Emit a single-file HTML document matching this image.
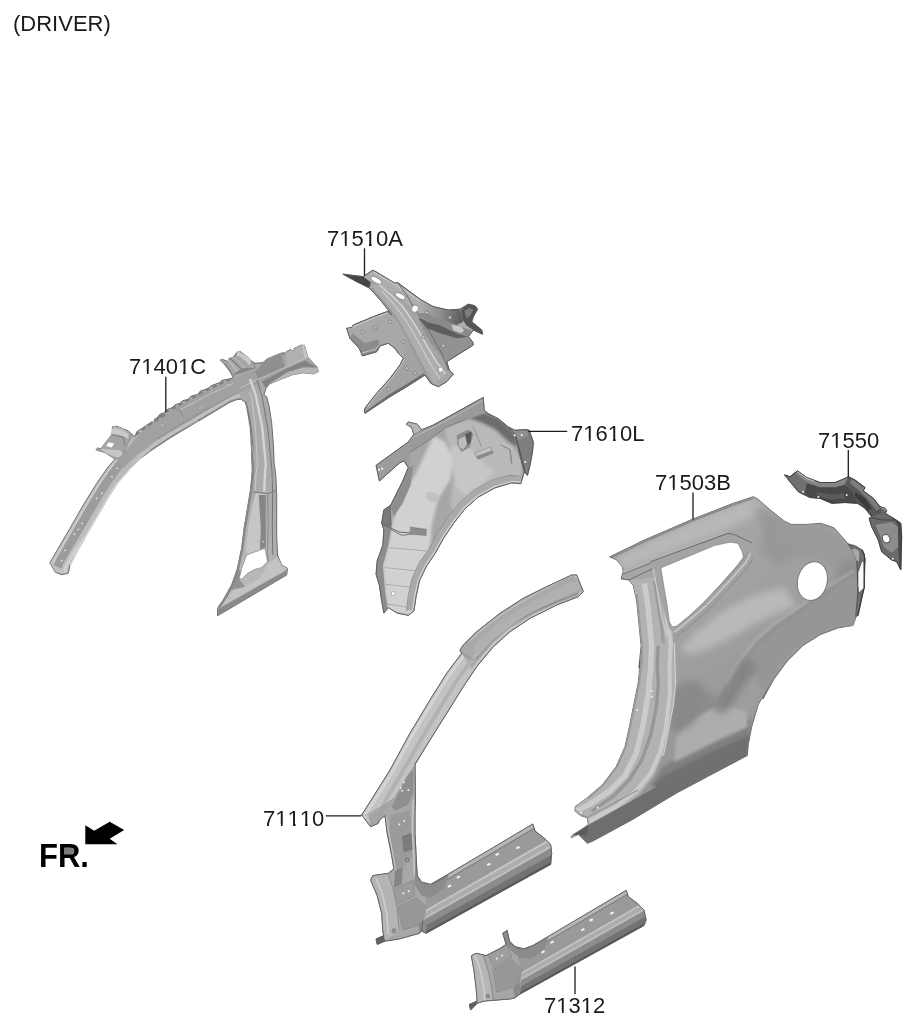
<!DOCTYPE html>
<html><head><meta charset="utf-8"><title>71110 diagram</title>
<style>
html,body{margin:0;padding:0;background:#fff;}
body{width:918px;height:1028px;overflow:hidden;position:relative;font-family:"Liberation Sans",sans-serif;color:#111;}
svg{position:absolute;left:0;top:0;display:block;}
.lb{position:absolute;white-space:nowrap;line-height:1;color:#1a1a1a;font-kerning:none;font-feature-settings:"kern" 0,"liga" 0;will-change:transform;transform:scaleY(1.03);transform-origin:0 85%;}
.o::after{content:"";display:inline-block;vertical-align:baseline;height:0.1em;margin-bottom:-0.016em;width:0.2em;margin-left:-0.512em;margin-right:0.312em;background:#fff;box-shadow:0.302em 0 0 0 #fff;}
</style></head><body>
<svg width="918" height="1028" viewBox="0 0 918 1028">
<defs>
<filter id="soft" x="-5%" y="-5%" width="110%" height="110%"><feGaussianBlur stdDeviation="0.55"/></filter>
<filter id="soft2" x="-10%" y="-10%" width="120%" height="120%"><feGaussianBlur stdDeviation="1.6"/></filter>
<filter id="soft3" x="-20%" y="-20%" width="140%" height="140%"><feGaussianBlur stdDeviation="3.5"/></filter>
<linearGradient id="gA" gradientUnits="userSpaceOnUse" x1="50" y1="600" x2="320" y2="350"><stop offset="0" stop-color="#c2c2c2"/><stop offset="0.45" stop-color="#b8b8b8"/><stop offset="0.6" stop-color="#ababab"/><stop offset="1" stop-color="#a8a8a8"/></linearGradient>
<clipPath id="cB"><path d="M343.3 274.2 L363.3 276.7 L372.5 270.3 L375.8 271.7 L395.0 283.3 L397.5 282.5 L420.0 299.2 L433.3 306.7 L448.3 310.0 L460.0 309.2 L468.3 304.2 L475.0 305.8 L477.5 309.2 L473.3 316.7 L471.7 321.7 L481.7 330.0 L482.5 334.2 L473.3 330.0 L468.3 336.7 L472.5 341.7 L473.3 345.0 L446.7 361.7 L449.2 370.0 L453.3 374.2 L446.7 381.7 L438.3 386.7 L430.8 383.3 L425.0 375.0 L406.7 386.7 L390.0 396.7 L365.0 413.3 L364.2 410.0 L366.7 405.8 L376.7 393.3 L390.0 378.3 L400.0 365.0 L403.3 358.3 L398.3 353.3 L395.0 348.3 L388.3 343.3 L380.0 345.8 L376.7 351.7 L362.5 355.8 L359.2 348.3 L350.0 338.3 L346.7 328.3 L351.7 327.5 L353.3 325.0 L373.3 316.7 L386.7 311.7 L388.3 311.7 L391.7 315.0 L388.3 310.0 L381.7 301.7 L370.0 288.3 L356.7 281.7Z"/></clipPath>
<linearGradient id="gBarm" gradientUnits="userSpaceOnUse" x1="420" y1="305" x2="462" y2="312"><stop offset="0" stop-color="#adadad"/><stop offset="0.5" stop-color="#8e8e8e"/><stop offset="1" stop-color="#5e5e5e"/></linearGradient>
<clipPath id="cC"><path d="M483.3 397.8 L484.2 410.3 L488.3 413.7 L498.3 418.7 L508.3 427.0 L515.0 430.3 L526.7 429.5 L529.2 430.3 L533.3 442.0 L532.5 452.0 L530.0 465.3 L527.5 475.3 L524.2 472.0 L520.8 483.7 L511.7 482.8 L495.0 487.8 L478.3 497.0 L465.0 508.7 L453.3 523.7 L443.3 538.7 L435.0 553.7 L426.6 565.8 L419.4 580.9 L416.1 596.4 L413.9 610.9 L408.3 615.3 L397.2 613.1 L388.3 607.6 L383.9 613.1 L381.7 600.9 L379.4 585.3 L376.1 574.2 L377.2 560.9 L382.8 545.3 L383.9 529.8 L381.7 523.1 L383.9 509.8 L390.6 505.3 L393.9 498.7 L402.8 480.9 L408.3 467.6 L403.9 460.9 L399.4 463.1 L379.4 480.9 L376.1 465.3 L408.3 442.0 L413.9 434.2 L411.7 427.6 L406.6 424.2 L408.3 422.0 L417.2 424.2 L421.7 429.8 L432.8 425.3 L455.0 413.1Z"/></clipPath>
<clipPath id="cD"><path d="M610.0 556.7 L644.4 540.0 L693.3 518.9 L733.3 503.3 L753.3 496.7 L757.8 498.9 L768.9 508.9 L784.4 521.1 L791.1 524.4 L807.3 524.4 L820.7 523.3 L834.0 527.8 L842.9 537.8 L849.6 545.6 L856.2 546.7 L862.9 552.2 L865.1 558.9 L862.9 578.9 L861.8 592.2 L858.4 605.6 L856.2 616.7 L852.9 625.6 L849.6 626.0 L838.4 627.8 L820.7 634.4 L802.9 645.6 L787.3 661.1 L774.0 678.9 L762.9 698.9 L769.0 686.7 L758.3 704.4 L751.7 726.7 L748.3 744.4 L747.2 755.6 L709.4 775.6 L676.1 793.3 L631.7 820.0 L592.8 841.1 L587.2 843.3 L578.3 834.4 L571.2 837.8 L571.7 835.6 L583.9 827.8 L588.3 824.4 L587.2 817.8 L580.6 815.6 L575.0 811.1 L575.0 806.7 L587.2 797.8 L602.8 784.4 L616.1 766.7 L625.0 746.7 L629.4 726.7 L633.9 704.4 L638.3 682.2 L640.6 660.0 L638.9 667.8 L641.1 645.6 L638.9 623.3 L636.7 601.1 L633.3 585.6 L628.9 580.0 L621.1 578.9 L623.3 571.1 L622.2 566.7 L616.7 560.0Z"/></clipPath>
<linearGradient id="gD" gradientUnits="userSpaceOnUse" x1="640" y1="520" x2="780" y2="760"><stop offset="0" stop-color="#a9a9a9"/><stop offset="0.5" stop-color="#9f9f9f"/><stop offset="1" stop-color="#929292"/></linearGradient>
<clipPath id="cE"><path d="M785.0 475.0 L790.0 476.7 L797.5 470.8 L806.7 477.5 L820.0 482.5 L835.0 482.5 L843.3 479.2 L848.3 476.7 L855.0 480.0 L865.0 487.5 L863.3 490.8 L873.3 498.3 L880.0 506.7 L885.0 508.3 L886.7 510.8 L885.0 513.3 L895.0 519.2 L900.8 523.3 L901.7 536.7 L900.8 570.0 L899.2 566.7 L896.7 561.7 L891.7 560.0 L881.7 551.7 L878.3 540.0 L871.7 526.7 L869.2 518.3 L871.7 516.7 L865.0 508.3 L857.5 503.3 L845.0 502.5 L831.7 503.3 L820.0 498.3 L810.0 497.5 L798.3 491.7 L790.0 481.7Z"/></clipPath>
<clipPath id="cF"><path d="M361.7 815.0 L373.3 796.7 L390.0 770.0 L410.0 733.3 L430.0 700.0 L446.7 673.3 L461.7 653.3 L460.0 650.0 L463.3 645.0 L476.7 631.7 L500.0 613.3 L523.3 598.3 L546.7 586.7 L571.7 575.0 L576.7 575.0 L583.3 591.7 L578.3 596.7 L556.7 605.0 L530.0 618.3 L510.0 631.7 L493.3 646.7 L476.7 666.7 L463.3 686.7 L446.7 713.3 L430.0 740.0 L415.0 764.4 L415.4 800.0 L415.0 811.1 L415.0 833.3 L416.1 855.6 L417.2 875.6 L421.7 882.2 L430.6 884.4 L443.9 876.7 L492.8 847.8 L532.8 824.0 L535.0 831.1 L543.9 837.8 L550.6 844.4 L551.7 853.3 L550.6 864.4 L426.1 933.3 L421.7 931.1 L419.4 933.3 L399.4 938.9 L385.0 941.1 L377.2 944.4 L376.1 938.9 L383.9 935.6 L382.8 931.1 L381.7 913.3 L377.2 895.6 L370.6 880.0 L372.8 875.6 L388.3 873.3 L393.9 868.9 L391.7 855.6 L387.2 833.3 L385.0 815.6 L379.4 820.0 L378.3 823.3 L370.6 826.7 L363.9 817.8 L361.7 814.4Z"/></clipPath>
<clipPath id="cG"><path d="M471.7 955.6 L476.1 953.3 L486.1 955.6 L499.4 948.9 L506.1 944.4 L502.8 933.3 L507.2 930.4 L509.4 941.1 L515.0 946.7 L523.9 948.9 L532.8 945.6 L626.1 890.4 L628.3 896.7 L637.2 903.3 L643.9 910.0 L646.1 920.0 L643.9 925.6 L519.4 994.4 L515.0 997.8 L510.6 998.9 L483.9 1001.1 L477.2 1003.3 L470.6 1010.0 L469.4 1004.4 L477.2 1001.1 L476.1 987.8 L473.9 970.0Z"/></clipPath>
</defs>
<g filter="url(#soft)">
<path d="M50.0 562.5 L58.3 548.3 L70.0 528.3 L83.3 505.0 L96.7 483.3 L108.3 466.7 L115.0 459.2 L111.7 455.8 L103.3 451.7 L96.7 450.0 L97.5 448.0 L103.3 449.2 L106.7 443.3 L110.8 436.7 L113.3 433.3 L112.5 426.7 L116.7 426.2 L128.3 430.8 L130.8 433.3 L135.0 436.7 L136.7 431.7 L148.3 424.2 L151.7 421.7 L155.0 422.5 L154.2 419.2 L160.0 417.5 L165.0 414.2 L156.7 418.3 L160.0 414.2 L165.0 412.5 L166.7 409.7 L172.5 407.5 L175.0 404.7 L180.0 403.3 L182.5 400.8 L188.3 399.2 L190.8 396.3 L198.3 394.2 L200.0 391.3 L208.3 388.3 L210.8 385.8 L220.0 382.5 L221.7 380.3 L228.3 379.2 L233.3 377.5 L230.0 371.7 L225.0 365.0 L220.8 360.0 L223.3 359.7 L230.0 362.5 L236.7 352.5 L240.8 351.7 L250.0 360.0 L255.0 363.3 L265.0 362.5 L266.7 360.0 L262.8 362.8 L267.2 358.9 L280.6 353.3 L282.8 355.0 L285.0 352.8 L290.6 349.4 L292.8 351.1 L297.2 346.7 L301.7 345.0 L304.4 345.6 L307.8 357.2 L317.2 367.2 L318.3 371.7 L313.9 373.9 L302.8 372.8 L291.7 375.0 L280.6 379.4 L269.4 383.9 L266.1 388.3 L263.9 395.0 L266.7 396.7 L269.2 406.7 L271.7 423.3 L273.3 443.3 L274.2 463.3 L275.8 475.0 L276.7 495.0 L276.7 515.0 L276.7 535.0 L277.5 555.0 L281.7 565.0 L287.5 568.3 L286.7 575.0 L217.5 615.8 L217.5 608.3 L223.3 600.0 L231.7 585.0 L237.5 568.3 L241.7 548.3 L244.2 528.3 L247.5 508.3 L250.8 488.3 L252.5 471.7 L251.7 455.0 L253.3 450.0 L251.7 433.3 L250.0 420.0 L247.5 408.3 L245.0 401.7 L240.8 399.2 L236.7 399.7 L230.0 402.2 L215.0 411.2 L200.0 420.2 L183.3 430.0 L170.0 438.0 L160.0 444.7 L150.0 451.3 L138.3 460.0 L128.3 470.0 L118.3 481.7 L106.7 500.0 L95.0 520.0 L83.3 540.0 L73.3 556.7 L70.0 565.0 L68.3 573.3 L61.7 574.7 L55.8 572.5Z" fill="url(#gA)" stroke="#606060" stroke-width="0.9" stroke-linejoin="round" stroke-linecap="round" />
<path d="M57.7 567.0 L60.3 560.3 L79.8 527.0 L99.3 493.7 L110.3 477.0 L120.7 462.8" fill="none" stroke="#9c9c9c" stroke-width="8.6" stroke-linejoin="round" stroke-linecap="butt" />
<path d="M52.3 563.3 L60.7 549.2 L72.3 529.2 L85.7 505.8 L99.0 484.2 L110.7 467.5 L117.0 460.0" fill="none" stroke="#cbcbcb" stroke-width="1.7" stroke-linejoin="round" stroke-linecap="butt" />
<path d="M70.0 565.0 L84.2 538.3 L104.2 503.3 L115.8 485.0 L131.7 466.7" fill="none" stroke="#d2d2d2" stroke-width="1.6" stroke-linejoin="round" stroke-linecap="butt" />
<path d="M64.7 572.5 L65.8 566.7 L71.7 556.7 L84.2 538.3" fill="none" stroke="#d0d0d0" stroke-width="3" stroke-linejoin="round" stroke-linecap="butt" />
<path d="M150.0 423.3 L165.0 414.2 L180.0 405.0 L198.3 395.8 L220.0 384.2 L233.3 379.2 L250.0 371.7 L265.0 365.0 L265.0 380.0 L243.3 390.8 L233.3 395.3 L216.7 404.2 L200.0 413.8 L183.3 423.7 L166.7 433.7 L150.0 444.2Z" fill="#a1a1a1" />
<path d="M116.7 458.3 L125.0 451.7 L135.0 439.2 L150.0 423.3 L151.7 444.2 L138.3 453.7 L128.3 463.3 L123.3 468.3Z" fill="#a1a1a1" />
<path d="M150.0 447.5 L170.0 434.7 L200.0 416.7 L230.0 398.7 L240.0 395.3" fill="none" stroke="#c0c0c0" stroke-width="3.0" stroke-linejoin="round" stroke-linecap="butt" />
<path d="M131.7 465.8 L145.0 452.5 L161.7 440.0 L178.3 429.7 L198.0 420.3" fill="none" stroke="#c0c0c0" stroke-width="2.6" stroke-linejoin="round" stroke-linecap="butt" />
<path d="M135.8 435.0 L148.3 425.3 L165.0 415.0 L160.0 415.3 L172.5 408.3 L188.3 400.0 L208.3 389.3 L228.3 380.0 L233.3 378.3" fill="none" stroke="#7e7e7e" stroke-width="2.0" stroke-linejoin="round" stroke-linecap="butt" stroke-dasharray="4.5 3.2"/>
<path d="M267.8 359.7 L280.6 354.1 L290.6 350.3 L301.7 345.9" fill="none" stroke="#808080" stroke-width="1.8" stroke-linejoin="round" stroke-linecap="butt" stroke-dasharray="4 3"/>
<path d="M156.7 439.2 L178.3 425.8 L205.0 410.3 L233.3 395.3" fill="none" stroke="#868686" stroke-width="0.8" stroke-linejoin="round" stroke-linecap="butt" />
<path d="M173.3 408.3 L180.0 410.0 L183.3 416.7" fill="none" stroke="#808080" stroke-width="0.8" stroke-linejoin="round" stroke-linecap="butt" />
<path d="M180.0 410.0 L205.0 396.7 L233.3 383.3" fill="none" stroke="#c4c4c4" stroke-width="1.0" stroke-linejoin="round" stroke-linecap="butt" />
<path d="M252.8 371.7 L262.8 362.8 L267.2 358.9 L280.6 353.3 L282.8 355.0 L285.0 352.8 L290.6 349.4 L292.8 351.1 L297.2 346.7 L301.7 345.0 L304.4 345.6 L307.8 357.2 L317.2 367.2 L318.3 371.7 L313.9 373.9 L302.8 372.8 L291.7 375.0 L280.6 379.4 L269.4 383.9 L266.1 388.3 L258.3 381.7Z" fill="#a3a3a3" />
<path d="M267.2 359.2 L280.6 353.7 L285.0 367.2 L258.3 378.9 L255.0 371.7Z" fill="#8f8f8f" />
<path d="M285.6 353.3 L290.6 349.8 L292.8 351.4 L297.2 347.0 L301.7 345.3 L304.1 345.9 L307.2 357.2 L302.8 360.0 L287.2 366.7Z" fill="#b0b0b0" />
<path d="M301.7 345.3 L304.3 345.8 L307.8 357.2 L305.0 358.9Z" fill="#c4c4c4" />
<path d="M261.7 381.7 L287.2 368.3 L305.0 360.6 L309.4 363.3 L317.2 367.4 L302.8 367.2 L287.2 372.2 L269.4 383.7 L266.1 388.1Z" fill="#838383" />
<path d="M269.4 383.9 L287.2 372.6 L302.8 367.8 L317.4 367.8 L318.3 371.7 L313.9 373.9 L302.8 372.8 L291.7 375.0 L280.6 379.4Z" fill="#b6b6b6" />
<path d="M240.0 388.1 L258.3 379.2 L285.0 367.4 L305.0 358.6" fill="none" stroke="#c2c2c2" stroke-width="1.0" stroke-linejoin="round" stroke-linecap="butt" />
<path d="M150.0 450.3 L170.0 437.0 L200.0 419.2 L230.0 401.3 L236.7 399.0" fill="none" stroke="#8c8c8c" stroke-width="1.0" stroke-linejoin="round" stroke-linecap="butt" />
<path d="M95.9 449.7 L97.6 448.1 L100.5 448.8 L111.6 434.4 L112.3 428.5 L114.2 426.2 L123.4 428.8 L128.6 432.4 L131.9 436.3 L128.6 441.6 L126.0 448.1 L123.4 454.0 L118.1 458.2 L113.6 458.6 L105.1 452.7 L97.9 450.7Z" fill="#a4a4a4" stroke="#777" stroke-width="0.5" stroke-linejoin="round" stroke-linecap="round" />
<path d="M112.3 428.5 L114.2 426.2 L123.4 428.8 L128.6 432.4 L128.3 439.0 L123.4 436.3 L113.6 434.1 L111.6 434.4Z" fill="#cacaca" />
<path d="M114.2 426.2 L123.4 428.8 L128.6 432.4 L127.8 434.1 L122.7 430.8 L113.9 428.2Z" fill="#b2b2b2" />
<path d="M100.5 448.8 L120.1 450.2 L123.4 454.0 L118.1 457.9 L105.1 452.7Z" fill="#c6c6c6" />
<path d="M108.7 442.2 L114.2 443.5 L111.6 447.5 L106.1 446.1Z" fill="#fff" />
<path d="M111.6 434.7 L123.4 437.1 L124.7 444.8" fill="none" stroke="#6f6f6f" stroke-width="0.7" stroke-linejoin="round" stroke-linecap="butt" />
<path d="M220.2 360.0 L221.8 359.3 L227.0 361.6 L229.3 358.0 L236.2 356.4 L237.2 351.8 L238.8 351.2 L248.6 357.4 L251.2 361.0 L253.8 362.9 L255.1 368.1 L232.9 375.3 L230.3 370.8 L228.3 366.8Z" fill="#a6a6a6" stroke="#707070" stroke-width="0.5" stroke-linejoin="round" stroke-linecap="round" />
<path d="M237.2 351.8 L238.8 351.2 L248.6 357.4 L251.2 361.0 L249.6 365.5 L246.0 361.6 L240.1 356.7 L236.5 356.1Z" fill="#c9c9c9" />
<path d="M229.6 358.3 L234.2 361.6 L239.5 367.5 L242.7 369.5" fill="none" stroke="#6a6a6a" stroke-width="1.0" stroke-linejoin="round" stroke-linecap="butt" />
<path d="M228.0 360.0 L231.6 364.2 L235.5 369.5 L238.1 371.1" fill="none" stroke="#cfcfcf" stroke-width="1.0" stroke-linejoin="round" stroke-linecap="butt" />
<path d="M233.6 357.4 L238.1 361.0 L242.7 366.2 L245.3 367.8" fill="none" stroke="#c4c4c4" stroke-width="0.9" stroke-linejoin="round" stroke-linecap="butt" />
<path d="M232.9 375.3 L238.1 370.8 L246.0 367.8 L255.1 368.1Z" fill="#858585" />
<path d="M249 392 L251.3 395.2 L255.4 427.6 L257.5 465.2 L255.8 475.0 L255.3 490.8" fill="none" stroke="#c4c4c4" stroke-width="1.2" stroke-linejoin="round" stroke-linecap="butt" />
<path d="M250 379 L255.7 395.2 L262.3 427.6 L265.8 465.2 L265.0 471.7 L264.2 492.0" fill="none" stroke="#d4d4d4" stroke-width="2.4" stroke-linejoin="round" stroke-linecap="butt" />
<path d="M257 380 L261.8 395.2 L267.7 427.6 L271.5 465.2 L272.0 471.7 L272.7 495.0 L272.3 525.0 L272.8 555.0" fill="none" stroke="#747474" stroke-width="1.0" stroke-linejoin="round" stroke-linecap="butt" />
<path d="M246 402 L250.4 427.6 L252.6 465.2 L252.3 471.7 L251.0 488.3" fill="none" stroke="#7e7e7e" stroke-width="1.4" stroke-linejoin="round" stroke-linecap="butt" />
<path d="M255.8 492.5 L265.8 494.2 L265.8 548.3 L247.5 554.2 L245.8 548.3 L248.3 528.3 L251.7 508.3Z" fill="#c6c6c6" />
<path d="M258.7 495.0 L265.8 495.0 L265.8 547.5 L260.0 549.2 L260.8 528.3Z" fill="#868686" />
<path d="M253.3 492.0 L268.3 493.7 L275.8 490.8" fill="none" stroke="#7a7a7a" stroke-width="1.0" stroke-linejoin="round" stroke-linecap="butt" />
<path d="M267.5 495.0 L268.3 521.7 L267.5 548.3 L268.3 561.7" fill="none" stroke="#8a8a8a" stroke-width="0.9" stroke-linejoin="round" stroke-linecap="butt" />
<path d="M231.7 588.3 L245.0 586.7 L260.0 578.3 L268.3 563.3 L277.5 556.7 L281.7 565.3 L287.5 568.7 L223.3 605.0 L218.3 608.3Z" fill="#c3c3c3" />
<path d="M217.5 609.2 L287.2 570.0 L286.7 575.0 L217.5 615.8Z" fill="#8a8a8a" />
<path d="M223.3 600.0 L231.7 585.0 L237.5 568.3 L241.7 571.7 L239.2 579.2 L245.0 586.7 L231.7 590.0 L221.7 605.8Z" fill="#929292" />
<path d="M252.3 455.0 L253.2 471.7 L251.5 488.3 L248.2 508.3 L244.8 528.3 L242.3 548.3 L238.2 568.3 L232.3 585.0 L224.0 600.0 L218.7 607.7" fill="none" stroke="#878787" stroke-width="2.2" stroke-linejoin="round" stroke-linecap="butt" />
<path d="M246.7 555.0 L265.0 548.3 L267.5 561.7 L261.7 567.5 L255.0 569.2 L247.5 573.3 L241.7 579.2 L239.2 578.3 L241.7 568.3 L245.0 559.2Z" fill="#fff" stroke="#777" stroke-width="0.6" stroke-linejoin="round" stroke-linecap="round" />
<circle cx="65.0" cy="550.3" r="0.9" fill="#e8e8e8"/>
<circle cx="61.7" cy="560.8" r="0.9" fill="#e8e8e8"/>
<circle cx="74.3" cy="534.2" r="0.9" fill="#e8e8e8"/>
<circle cx="78.3" cy="529.3" r="0.9" fill="#e8e8e8"/>
<circle cx="82.0" cy="523.3" r="0.9" fill="#e8e8e8"/>
<circle cx="96.7" cy="498.3" r="0.9" fill="#e8e8e8"/>
<circle cx="102.0" cy="493.3" r="0.9" fill="#e8e8e8"/>
<circle cx="112.0" cy="476.7" r="0.9" fill="#e8e8e8"/>
<circle cx="117.0" cy="468.3" r="0.9" fill="#e8e8e8"/>
<circle cx="180.8" cy="419.2" r="1.0" fill="#e6e6e6" stroke="#777" stroke-width="0.4"/>
<circle cx="200.0" cy="408.3" r="1.0" fill="#e6e6e6" stroke="#777" stroke-width="0.4"/>
<circle cx="201.7" cy="406.7" r="1.0" fill="#e6e6e6" stroke="#777" stroke-width="0.4"/>
<circle cx="162.5" cy="425.0" r="1.0" fill="#e6e6e6" stroke="#777" stroke-width="0.4"/>
<circle cx="227.5" cy="385.0" r="1.0" fill="#e6e6e6" stroke="#777" stroke-width="0.4"/>
<circle cx="250.0" cy="403.3" r="1.0" fill="#e6e6e6" stroke="#777" stroke-width="0.4"/>
<circle cx="258.3" cy="541.7" r="1.0" fill="#e6e6e6" stroke="#777" stroke-width="0.4"/>
<circle cx="263.3" cy="541.7" r="1.0" fill="#e6e6e6" stroke="#777" stroke-width="0.4"/>
<circle cx="250.8" cy="578.0" r="1.0" fill="#e6e6e6" stroke="#777" stroke-width="0.4"/>
<circle cx="271.7" cy="480.0" r="1.0" fill="#e6e6e6" stroke="#777" stroke-width="0.4"/>
<circle cx="235.0" cy="589.2" r="1.0" fill="#e6e6e6" stroke="#777" stroke-width="0.4"/>
<circle cx="229.2" cy="597.5" r="1.0" fill="#e6e6e6" stroke="#777" stroke-width="0.4"/>
</g>
<g filter="url(#soft)">
<path d="M343.3 274.2 L363.3 276.7 L372.5 270.3 L375.8 271.7 L395.0 283.3 L397.5 282.5 L420.0 299.2 L433.3 306.7 L448.3 310.0 L460.0 309.2 L468.3 304.2 L475.0 305.8 L477.5 309.2 L473.3 316.7 L471.7 321.7 L481.7 330.0 L482.5 334.2 L473.3 330.0 L468.3 336.7 L472.5 341.7 L473.3 345.0 L446.7 361.7 L449.2 370.0 L453.3 374.2 L446.7 381.7 L438.3 386.7 L430.8 383.3 L425.0 375.0 L406.7 386.7 L390.0 396.7 L365.0 413.3 L364.2 410.0 L366.7 405.8 L376.7 393.3 L390.0 378.3 L400.0 365.0 L403.3 358.3 L398.3 353.3 L395.0 348.3 L388.3 343.3 L380.0 345.8 L376.7 351.7 L362.5 355.8 L359.2 348.3 L350.0 338.3 L346.7 328.3 L351.7 327.5 L353.3 325.0 L373.3 316.7 L386.7 311.7 L388.3 311.7 L391.7 315.0 L388.3 310.0 L381.7 301.7 L370.0 288.3 L356.7 281.7Z" fill="#a4a4a4" stroke="#555" stroke-width="0.9" stroke-linejoin="round" stroke-linecap="round" />
</g>
<g clip-path="url(#cB)"><g filter="url(#soft)">
<path d="M418.3 318.3 L426.7 321.7 L440.0 325.0 L456.7 333.3 L468.3 336.7 L472.5 341.7 L473.3 345.0 L446.7 361.7 L440.0 355.0 L430.0 341.7 L423.3 330.0Z" fill="#929292" />
<path d="M418.3 318.3 L430.0 320.8 L446.7 325.0 L463.3 333.3 L468.3 336.7 L456.7 338.3 L440.0 333.3 L426.7 328.3Z" fill="#5e5e5e" />
<path d="M450.0 325.0 L463.3 328.3 L469.2 333.3 L466.7 336.3 L455.0 330.8Z" fill="#b5b5b5" />
<path d="M346.7 328.3 L351.7 327.5 L353.3 325.0 L373.3 316.7 L386.7 311.7 L391.7 315.0 L398.3 323.3 L406.7 338.3 L403.3 358.3 L398.3 353.3 L395.0 348.3 L388.3 343.3 L380.0 345.8 L376.7 351.7 L362.5 355.8 L359.2 348.3 L350.0 338.3Z" fill="#a8a8a8" />
<path d="M350.0 338.3 L359.2 348.3 L362.5 355.8 L376.7 351.7 L380.0 345.8 L378.3 339.2 L365.0 343.3 L356.7 336.7 L352.5 333.3Z" fill="#8c8c8c" />
<path d="M360.8 353.3 L375.8 349.2 L379.2 345.0" fill="none" stroke="#c4c4c4" stroke-width="1.0" stroke-linejoin="round" stroke-linecap="butt" />
<path d="M347.5 329.2 L373.3 318.0 L387.5 313.0" fill="none" stroke="#c8c8c8" stroke-width="1.2" stroke-linejoin="round" stroke-linecap="butt" />
<path d="M403.3 358.3 L406.7 338.3 L415.0 355.0 L425.0 375.0 L406.7 386.7 L390.0 396.7 L365.0 413.3 L364.2 410.0 L366.7 405.8 L376.7 393.3 L390.0 378.3 L400.0 365.0Z" fill="#a3a3a3" />
<path d="M365.0 413.3 L390.0 396.7 L406.7 386.7 L425.0 375.0 L424.0 373.0 L405.7 384.5 L389.0 394.5 L365.7 411.2Z" fill="#707070" />
<path d="M395.0 348.3 L398.3 353.3 L403.3 358.3 L400.0 365.0 L396.7 370.0 L395.0 361.7Z" fill="#7a7a7a" />
<path d="M404.2 359.2 L400.8 365.8 L390.8 379.2 L377.5 394.2 L367.5 406.7" fill="none" stroke="#c4c4c4" stroke-width="1.0" stroke-linejoin="round" stroke-linecap="butt" />
<path d="M363.3 276.7 L372.5 270.3 L375.8 271.7 L395.0 283.3 L397.5 282.5 L420.0 299.2 L433.3 306.7 L448.3 310.0 L460.0 309.2 L468.3 304.2 L475.0 305.8 L477.5 309.2 L473.3 316.7 L471.7 321.7 L481.7 330.0 L482.5 334.2 L473.3 330.0 L468.3 336.7 L456.7 333.3 L440.0 325.0 L426.7 321.7 L418.3 313.3 L406.7 303.3 L390.0 291.7 L373.3 281.7Z" fill="#adadad" />
<path d="M373.3 271.7 L395.8 285.0 L419.2 300.8 L432.5 308.3 L448.3 312.0 L460.0 311.3" fill="none" stroke="#cacaca" stroke-width="1.3" stroke-linejoin="round" stroke-linecap="butt" />
<path d="M397.5 282.5 L420.0 299.2 L433.3 306.7 L448.3 310.0" fill="none" stroke="#8a8a8a" stroke-width="0.8" stroke-linejoin="round" stroke-linecap="butt" />
<path d="M418.3 313.3 L426.7 321.7 L440.0 325.0 L456.7 333.3 L468.3 336.7 L471.7 330.8 L456.7 325.0 L440.0 319.2 L426.7 313.3Z" fill="#8a8a8a" />
<path d="M460.8 310.0 L468.3 304.2 L475.0 305.8 L477.5 309.2 L473.3 316.7 L471.7 321.7 L481.7 330.0 L482.5 334.2 L473.3 330.0 L466.7 325.8 L462.5 319.2Z" fill="#555555" />
<path d="M464.2 310.8 L469.2 308.0 L473.3 309.7 L470.0 315.8 L466.7 318.3Z" fill="#7e7e7e" />
<path d="M451.2 324.5 L461.2 326.7 L464.2 330.8 L461.2 333.0 L453.3 330.3Z" fill="#c8c8c8" />
<path d="M420.0 299.2 L433.3 306.7 L448.3 310.0 L460.0 309.2 L463.3 321.7 L456.7 325.0 L440.0 319.2 L426.7 313.3 L418.3 305.0Z" fill="url(#gBarm)" />
<path d="M343.3 274.2 L363.3 276.7 L370.8 282.5 L369.2 288.3 L356.7 281.7Z" fill="#454545" />
<path d="M368.3 287.5 L378.3 283.3 L390.0 293.3 L401.7 305.0 L410.0 316.7 L418.3 330.0 L426.7 345.0 L436.7 361.7 L446.7 375.0 L453.3 374.2 L446.7 381.7 L438.3 386.7 L430.8 383.3 L425.0 375.0 L415.0 355.0 L406.7 338.3 L398.3 323.3 L390.0 311.7 L380.0 300.0 L370.0 290.8Z" fill="#adadad" />
<path d="M368.3 287.5 L373.3 288.3 L383.3 300.0 L393.3 312.5 L401.7 325.0 L410.0 340.0 L418.3 356.7 L428.3 375.0 L433.3 383.3 L430.8 383.3 L425.0 375.0 L415.0 355.0 L406.7 338.3 L398.3 323.3 L390.0 311.7 L380.0 300.0 L370.0 290.8Z" fill="#9a9a9a" />
<path d="M378.7 284.2 L390.3 294.2 L402.0 305.8 L410.3 317.5 L418.7 330.8 L427.0 345.8 L437.0 362.5 L446.7 375.3" fill="none" stroke="#d4d4d4" stroke-width="1.5" stroke-linejoin="round" stroke-linecap="butt" />
<path d="M381.7 290.8 L393.3 303.3 L403.3 316.7 L411.7 330.0 L420.0 345.0 L430.0 363.3 L440.0 379.2" fill="none" stroke="#cfcfcf" stroke-width="1.1" stroke-linejoin="round" stroke-linecap="butt" />
<path d="M397.5 282.5 L406.7 295.0 L413.3 306.7 L423.3 321.7 L433.3 338.3 L441.7 353.3 L448.3 370.0" fill="none" stroke="#6c6c6c" stroke-width="1.0" stroke-linejoin="round" stroke-linecap="butt" />
<path d="M438.3 386.7 L446.7 381.7 L453.3 374.2 L449.2 370.0 L443.3 376.7 L436.7 381.7Z" fill="#a5a5a5" />
</g>
</g>
<g filter="url(#soft)">
<path d="M343.3 274.2 L363.3 276.7 L372.5 270.3 L375.8 271.7 L395.0 283.3 L397.5 282.5 L420.0 299.2 L433.3 306.7 L448.3 310.0 L460.0 309.2 L468.3 304.2 L475.0 305.8 L477.5 309.2 L473.3 316.7 L471.7 321.7 L481.7 330.0 L482.5 334.2 L473.3 330.0 L468.3 336.7 L472.5 341.7 L473.3 345.0 L446.7 361.7 L449.2 370.0 L453.3 374.2 L446.7 381.7 L438.3 386.7 L430.8 383.3 L425.0 375.0 L406.7 386.7 L390.0 396.7 L365.0 413.3 L364.2 410.0 L366.7 405.8 L376.7 393.3 L390.0 378.3 L400.0 365.0 L403.3 358.3 L398.3 353.3 L395.0 348.3 L388.3 343.3 L380.0 345.8 L376.7 351.7 L362.5 355.8 L359.2 348.3 L350.0 338.3 L346.7 328.3 L351.7 327.5 L353.3 325.0 L373.3 316.7 L386.7 311.7 L388.3 311.7 L391.7 315.0 L388.3 310.0 L381.7 301.7 L370.0 288.3 L356.7 281.7Z" fill="none" stroke="#555" stroke-width="0.8" stroke-linejoin="round" stroke-linecap="round" />
<ellipse cx="376.3" cy="280.3" rx="6.2" ry="2.5" transform="rotate(30 376.3 280.3)" fill="#fff" stroke="#666" stroke-width="0.5"/>
<ellipse cx="400.3" cy="296.2" rx="5.5" ry="2.5" transform="rotate(30 400.3 296.2)" fill="#fff" stroke="#666" stroke-width="0.5"/>
<ellipse cx="415.0" cy="308.7" rx="3.2" ry="3.7" transform="rotate(35 415.0 308.7)" fill="#fff" stroke="#666" stroke-width="0.5"/>
<path d="M438.3 368.3 L442.0 367.0 L443.3 370.8 L439.7 372.5Z" fill="#fff" stroke="#666" stroke-width="0.4" stroke-linejoin="round" stroke-linecap="round" />
<circle cx="362.5" cy="331.7" r="1.7" fill="#c4c4c4" stroke="#6a6a6a" stroke-width="0.6"/>
<circle cx="375.8" cy="327.5" r="1.7" fill="#c4c4c4" stroke="#6a6a6a" stroke-width="0.6"/>
<circle cx="390.0" cy="321.7" r="1.7" fill="#c4c4c4" stroke="#6a6a6a" stroke-width="0.6"/>
<circle cx="403.3" cy="341.7" r="1.7" fill="#c4c4c4" stroke="#6a6a6a" stroke-width="0.6"/>
<circle cx="443.3" cy="345.8" r="1.7" fill="#c4c4c4" stroke="#6a6a6a" stroke-width="0.6"/>
<circle cx="426.7" cy="312.5" r="1.7" fill="#c4c4c4" stroke="#6a6a6a" stroke-width="0.6"/>
<circle cx="450.0" cy="317.5" r="1.7" fill="#c4c4c4" stroke="#6a6a6a" stroke-width="0.6"/>
<circle cx="406.7" cy="368.3" r="1.7" fill="#c4c4c4" stroke="#6a6a6a" stroke-width="0.6"/>
<circle cx="415.0" cy="373.3" r="1.7" fill="#c4c4c4" stroke="#6a6a6a" stroke-width="0.6"/>
<circle cx="388.3" cy="389.2" r="1.7" fill="#c4c4c4" stroke="#6a6a6a" stroke-width="0.6"/>
<circle cx="423.3" cy="336.7" r="1.7" fill="#c4c4c4" stroke="#6a6a6a" stroke-width="0.6"/>
</g>
<g filter="url(#soft)">
<path d="M483.3 397.8 L484.2 410.3 L488.3 413.7 L498.3 418.7 L508.3 427.0 L515.0 430.3 L526.7 429.5 L529.2 430.3 L533.3 442.0 L532.5 452.0 L530.0 465.3 L527.5 475.3 L524.2 472.0 L520.8 483.7 L511.7 482.8 L495.0 487.8 L478.3 497.0 L465.0 508.7 L453.3 523.7 L443.3 538.7 L435.0 553.7 L426.6 565.8 L419.4 580.9 L416.1 596.4 L413.9 610.9 L408.3 615.3 L397.2 613.1 L388.3 607.6 L383.9 613.1 L381.7 600.9 L379.4 585.3 L376.1 574.2 L377.2 560.9 L382.8 545.3 L383.9 529.8 L381.7 523.1 L383.9 509.8 L390.6 505.3 L393.9 498.7 L402.8 480.9 L408.3 467.6 L403.9 460.9 L399.4 463.1 L379.4 480.9 L376.1 465.3 L408.3 442.0 L413.9 434.2 L411.7 427.6 L406.6 424.2 L408.3 422.0 L417.2 424.2 L421.7 429.8 L432.8 425.3 L455.0 413.1Z" fill="#a6a6a6" stroke="#5c5c5c" stroke-width="0.9" stroke-linejoin="round" stroke-linecap="round" />
</g>
<g clip-path="url(#cC)">
<g filter="url(#soft2)">
<path d="M434.2 435.7 L445.0 442.0 L453.3 458.7 L450.8 478.7 L438.3 498.7 L431.7 525.3 L429.2 565.3 L421.7 580.9 L417.2 616.4 L388.3 612.0 L385.0 592.0 L382.8 565.3 L388.3 545.3 L391.7 525.3 L397.2 507.6 L405.0 492.0 L416.7 472.0 L426.7 450.3Z" fill="#d1d1d1" />
<path d="M445.0 427.8 L470.0 419.5 L488.3 422.8 L511.7 442.0 L521.7 462.0 L520.8 482.8 L495.0 487.0 L473.3 498.7 L458.3 515.3 L450.0 507.0 L453.3 478.7 L455.8 458.7 L447.5 442.0Z" fill="#b9b9b9" />
<path d="M450.0 447.0 L465.0 442.0 L481.7 462.0 L495.0 470.3 L481.7 485.3 L465.0 495.3 L455.0 485.3Z" fill="#c6c6c6" />
<path d="M468.3 418.3 L485.0 412.8 L501.7 420.7 L515.3 434.5 L517.5 447.8 L508.3 442.0 L495.0 429.5 L481.7 422.8Z" fill="#6c6c6c" />
</g>
<g filter="url(#soft)">
<path d="M483.3 397.8 L461.7 410.3 L436.7 423.7 L426.7 427.8 L411.7 435.7 L395.0 448.7 L395.0 462.0 L413.3 450.3 L433.3 437.0 L445.0 427.8 L468.3 418.3 L485.0 412.8 L484.2 410.3Z" fill="#9a9a9a" />
<path d="M395.0 462.0 L413.3 450.3 L433.3 437.0 L445.0 427.8 L468.3 418.3" fill="none" stroke="#7c7c7c" stroke-width="0.9" stroke-linejoin="round" stroke-linecap="butt" />
<path d="M482.5 400.3 L461.7 412.3 L436.7 425.7 L411.7 437.8 L395.0 450.7" fill="none" stroke="#b2b2b2" stroke-width="1.2" stroke-linejoin="round" stroke-linecap="butt" />
<path d="M376.1 465.3 L408.3 442.0 L410.6 458.7 L408.3 467.6 L403.9 460.9 L399.4 463.1 L379.4 480.9Z" fill="#9c9c9c" />
<path d="M402.8 480.9 L408.3 467.6 L413.2 465.3 L410.6 485.3 L402.8 503.1 L393.9 516.4 L390.6 505.3 L393.9 498.7Z" fill="#8e8e8e" />
<path d="M515.3 431.3 L527.0 430.0 L529.3 430.7 L533.3 442.0 L532.5 452.0 L530.0 465.3 L527.5 475.3 L524.2 472.0 L519.2 453.7Z" fill="#7e7e7e" stroke="#4c4c4c" stroke-width="0.6" stroke-linejoin="round" stroke-linecap="round" />
<path d="M511.7 431.2 L526.7 430.0 L528.3 435.7 L518.3 440.3Z" fill="#8f8f8f" />
<path d="M501.7 420.7 L515.3 434.5 L521.7 458.7 L525.0 472.0" fill="none" stroke="#4e4e4e" stroke-width="1.0" stroke-linejoin="round" stroke-linecap="butt" />
<path d="M456.7 435.3 L468.3 429.5 L473.3 433.7 L470.0 447.0 L461.7 452.0 L457.5 445.3Z" fill="#8c8c8c" />
<path d="M458.3 439.5 L465.8 435.7 L468.3 442.0 L463.3 449.5 L459.2 447.0Z" fill="#bcbcbc" />
<path d="M465.0 434.5 L471.7 431.2 L470.8 442.0 L467.5 445.3Z" fill="#5a5a5a" />
<path d="M475.0 452.8 L490.0 447.0 L493.3 452.8 L478.3 459.0Z" fill="#c2c2c2" stroke="#777" stroke-width="0.5" stroke-linejoin="round" stroke-linecap="round" />
<path d="M475.8 456.2 L492.5 450.3 L493.3 453.3 L478.3 459.3Z" fill="#8a8a8a" />
<path d="M500.8 444.5 L510.0 449.5 L511.7 463.7" fill="none" stroke="#8a8a8a" stroke-width="1.4" stroke-linejoin="round" stroke-linecap="butt" />
<path d="M501.7 443.7 L511.7 448.7" fill="none" stroke="#cfcfcf" stroke-width="0.9" stroke-linejoin="round" stroke-linecap="butt" />
<path d="M472.5 425.3 L481.7 447.0" fill="none" stroke="#8e8e8e" stroke-width="0.9" stroke-linejoin="round" stroke-linecap="butt" />
<ellipse cx="432.5" cy="497.0" rx="7" ry="5" transform="rotate(25 432.5 497.0)" fill="#c2c2c2"/>
<path d="M383.9 509.8 L390.6 505.3 L391.7 525.3 L388.3 545.3 L382.8 565.3 L385.0 592.0 L388.3 612.0 L383.9 613.1 L381.7 600.9 L379.4 585.3 L376.1 574.2 L377.2 560.9 L382.8 545.3 L383.9 529.8 L381.7 523.1Z" fill="#8d8d8d" />
<path d="M381.7 506.4 L390.1 504.9 L391.0 525.3 L382.1 524.9Z" fill="#7a7a7a" stroke="#555" stroke-width="0.5" stroke-linejoin="round" stroke-linecap="round" />
<path d="M385.0 525.3 L399.4 532.0 L426.1 534.2" fill="none" stroke="#5e5e5e" stroke-width="0.9" stroke-linejoin="round" stroke-linecap="butt" />
<path d="M388.3 528.0 L401.7 535.3 L410.6 534.2" fill="none" stroke="#8a8a8a" stroke-width="1.2" stroke-linejoin="round" stroke-linecap="butt" />
<path d="M410.6 527.1 L426.6 529.3 L426.1 535.6 L410.1 534.2Z" fill="#8c8c8c" stroke="#666" stroke-width="0.4" stroke-linejoin="round" stroke-linecap="round" />
<path d="M389.4 547.6 L432.8 551.6" fill="none" stroke="#adadad" stroke-width="1.0" stroke-linejoin="round" stroke-linecap="butt" />
<path d="M389.4 549.3 L432.8 553.3" fill="none" stroke="#d6d6d6" stroke-width="0.8" stroke-linejoin="round" stroke-linecap="butt" />
<path d="M385.0 567.6 L423.9 571.6" fill="none" stroke="#adadad" stroke-width="1.0" stroke-linejoin="round" stroke-linecap="butt" />
<path d="M385.0 569.3 L423.9 573.3" fill="none" stroke="#d6d6d6" stroke-width="0.8" stroke-linejoin="round" stroke-linecap="butt" />
<path d="M385.0 584.2 L418.3 588.2" fill="none" stroke="#adadad" stroke-width="1.0" stroke-linejoin="round" stroke-linecap="butt" />
<path d="M385.0 586.0 L418.3 590.0" fill="none" stroke="#d6d6d6" stroke-width="0.8" stroke-linejoin="round" stroke-linecap="butt" />
<path d="M387.2 604.2 L415.0 608.2" fill="none" stroke="#adadad" stroke-width="1.0" stroke-linejoin="round" stroke-linecap="butt" />
<path d="M387.2 606.0 L415.0 610.0" fill="none" stroke="#d6d6d6" stroke-width="0.8" stroke-linejoin="round" stroke-linecap="butt" />
<path d="M520.8 483.3 L511.7 482.8 L495.0 487.8 L478.3 497.0 L465.0 508.7 L453.3 523.7 L443.3 538.7 L435.0 553.7 L426.6 565.8 L419.4 580.9 L416.1 596.4 L413.9 610.9" fill="none" stroke="#aaaaaa" stroke-width="15.0" stroke-linejoin="round" stroke-linecap="butt" />
<path d="M520.8 483.3 L511.7 482.8 L495.0 487.8 L478.3 497.0 L465.0 508.7 L453.3 523.7 L443.3 538.7 L435.0 553.7 L426.6 565.8 L419.4 580.9 L416.1 596.4 L413.9 610.9" fill="none" stroke="#d2d2d2" stroke-width="4.0" stroke-linejoin="round" stroke-linecap="butt" />
<path d="M518.3 476.2 L509.2 475.3 L491.7 480.3 L474.2 490.0 L460.0 502.3 L448.0 517.3 L437.5 532.8 L429.2 548.7 L419.0 563.1 L411.9 579.1 L408.3 594.7 L406.6 610.9" fill="none" stroke="#939393" stroke-width="1.0" stroke-linejoin="round" stroke-linecap="butt" />
<path d="M520.8 483.3 L511.7 482.8 L495.0 487.8 L478.3 497.0 L465.0 508.7 L453.3 523.7 L443.3 538.7 L435.0 553.7 L426.6 565.8 L419.4 580.9 L416.1 596.4 L413.9 610.9" fill="none" stroke="#6a6a6a" stroke-width="0.8" stroke-linejoin="round" stroke-linecap="butt" />
</g>
</g>
<g filter="url(#soft)">
<path d="M483.3 397.8 L484.2 410.3 L488.3 413.7 L498.3 418.7 L508.3 427.0 L515.0 430.3 L526.7 429.5 L529.2 430.3 L533.3 442.0 L532.5 452.0 L530.0 465.3 L527.5 475.3 L524.2 472.0 L520.8 483.7 L511.7 482.8 L495.0 487.8 L478.3 497.0 L465.0 508.7 L453.3 523.7 L443.3 538.7 L435.0 553.7 L426.6 565.8 L419.4 580.9 L416.1 596.4 L413.9 610.9 L408.3 615.3 L397.2 613.1 L388.3 607.6 L383.9 613.1 L381.7 600.9 L379.4 585.3 L376.1 574.2 L377.2 560.9 L382.8 545.3 L383.9 529.8 L381.7 523.1 L383.9 509.8 L390.6 505.3 L393.9 498.7 L402.8 480.9 L408.3 467.6 L403.9 460.9 L399.4 463.1 L379.4 480.9 L376.1 465.3 L408.3 442.0 L413.9 434.2 L411.7 427.6 L406.6 424.2 L408.3 422.0 L417.2 424.2 L421.7 429.8 L432.8 425.3 L455.0 413.1Z" fill="none" stroke="#5c5c5c" stroke-width="0.8" stroke-linejoin="round" stroke-linecap="round" />
<path d="M406.6 424.2 L408.3 422.0 L417.2 424.2 L421.7 429.8 L417.2 433.1 L413.9 434.2 L411.7 427.6Z" fill="#b5b5b5" stroke="#666" stroke-width="0.6" stroke-linejoin="round" stroke-linecap="round" />
<circle cx="393.2" cy="593.6" r="2.0" fill="#fff" stroke="#777" stroke-width="0.5"/>
<circle cx="514.7" cy="435.3" r="1.1" fill="#f4f4f4"/>
<circle cx="521.7" cy="435.0" r="1.1" fill="#f4f4f4"/>
<circle cx="525.3" cy="462.0" r="1.1" fill="#f4f4f4"/>
<circle cx="379.0" cy="469.8" r="1.1" fill="#f4f4f4"/>
<circle cx="382.1" cy="468.7" r="1.1" fill="#f4f4f4"/>
</g>
<g filter="url(#soft)">
<path d="M610.0 556.7 L644.4 540.0 L693.3 518.9 L733.3 503.3 L753.3 496.7 L757.8 498.9 L768.9 508.9 L784.4 521.1 L791.1 524.4 L807.3 524.4 L820.7 523.3 L834.0 527.8 L842.9 537.8 L849.6 545.6 L856.2 546.7 L862.9 552.2 L865.1 558.9 L862.9 578.9 L861.8 592.2 L858.4 605.6 L856.2 616.7 L852.9 625.6 L849.6 626.0 L838.4 627.8 L820.7 634.4 L802.9 645.6 L787.3 661.1 L774.0 678.9 L762.9 698.9 L769.0 686.7 L758.3 704.4 L751.7 726.7 L748.3 744.4 L747.2 755.6 L709.4 775.6 L676.1 793.3 L631.7 820.0 L592.8 841.1 L587.2 843.3 L578.3 834.4 L571.2 837.8 L571.7 835.6 L583.9 827.8 L588.3 824.4 L587.2 817.8 L580.6 815.6 L575.0 811.1 L575.0 806.7 L587.2 797.8 L602.8 784.4 L616.1 766.7 L625.0 746.7 L629.4 726.7 L633.9 704.4 L638.3 682.2 L640.6 660.0 L638.9 667.8 L641.1 645.6 L638.9 623.3 L636.7 601.1 L633.3 585.6 L628.9 580.0 L621.1 578.9 L623.3 571.1 L622.2 566.7 L616.7 560.0Z" fill="url(#gD)" stroke="#5a5a5a" stroke-width="0.9" stroke-linejoin="round" stroke-linecap="round" />
</g>
<g clip-path="url(#cD)">
<g filter="url(#soft3)">
<path d="M613.3 558.9 L693.3 521.1 L755.6 497.8 L766.7 510.0 L733.3 526.7 L666.7 553.3 L624.4 570.0Z" fill="#b8b8b8" />
<path d="M784.4 587.8 L755.6 594.4 L724.4 610.0 L693.3 634.4 L680.0 650.0 L693.3 654.4 L724.4 641.1 L760.0 621.1 L795.6 605.6Z" fill="#b9b9b9" />
<path d="M752.2 504.4 L790.0 522.2 L823.3 524.4 L850.0 544.4 L854.4 568.9 L827.8 562.2 L801.1 555.6 L778.9 566.7 L761.1 553.3 L763.3 528.9Z" fill="#989898" />
<path d="M771.8 512.2 L791.8 523.3 L820.7 523.3 L842.9 537.8 L856.2 547.8 L847.3 570.0 L829.6 563.3 L802.9 552.2 L780.7 538.9Z" fill="#9a9a9a" />
<path d="M838.4 563.3 L862.9 556.7 L860.7 601.1 L854.0 625.6 L838.4 623.3 L834.0 594.4Z" fill="#8e8e8e" />
</g>
<g filter="url(#soft)">
<path d="M855.6 572.2 L827.8 588.9 L796.7 611.1 L774.4 626.7 L756.7 642.2 L741.1 662.2 L727.8 684.4 L716.7 702.2 L710.0 711.1 L703.3 722.2 L694.4 737.8 L690.0 751.1 L746.7 737.8 L746.7 753.3 L748.2 744.4 L751.1 726.7 L756.7 704.4 L765.6 684.4 L778.9 664.4 L794.4 648.9 L814.4 635.6 L832.2 628.9 L845.6 626.7 L853.3 626.7 L856.2 615.6 L857.1 593.3Z" fill="#969696" />
</g>
<g filter="url(#soft2)">
<path d="M856.0 572.9 L828.2 589.6 L797.1 611.8 L774.9 627.3 L757.1 642.9 L741.6 662.9 L728.2 685.1 L717.1 702.9 L710.4 711.8" fill="none" stroke="#828282" stroke-width="1.6" stroke-linejoin="round" stroke-linecap="butt" />
<path d="M854.4 570.7 L826.7 587.3 L795.6 609.6 L773.3 625.1 L755.6 640.7 L740.0 660.7 L726.7 682.9" fill="none" stroke="#b2b2b2" stroke-width="2.0" stroke-linejoin="round" stroke-linecap="butt" />
</g>
<g filter="url(#soft3)">
<path d="M681.1 680.0 L703.3 688.9 L723.3 702.2 L710.0 720.0 L690.0 728.9 L676.7 724.4Z" fill="#8e8e8e" />
<path d="M730.0 684.4 L756.7 675.6 L763.3 693.3 L754.4 715.6 L734.4 720.0Z" fill="#9e9e9e" />
</g>
<g filter="url(#soft2)">
<path d="M750.6 718.9 L720.6 733.3 L689.4 750.0 L662.8 766.7 L651.7 784.4 L676.1 796.0 L709.4 777.8 L749.4 757.8Z" fill="#808080" />
<path d="M750.6 734.4 L720.6 747.8 L689.4 762.7 L662.8 776.7 L651.7 785.6 L676.1 796.0 L709.4 777.8 L749.4 757.8Z" fill="#6f6f6f" />
<path d="M689.4 720.0 L720.6 704.4 L746.1 711.1 L747.7 726.7 L720.6 738.9 L689.4 754.4 L673.9 762.2 L676.1 737.8Z" fill="#adadad" />
</g>
<g filter="url(#soft3)">
<path d="M745.0 657.8 L758.3 664.4 L725.0 713.3 L712.8 710.0Z" fill="#838383" />
<path d="M676.1 686.7 L698.3 680.0 L707.2 704.4 L689.4 726.7 L671.7 733.3 L669.4 708.9Z" fill="#898989" />
</g>
<path d="M850.7 626.0 L838.4 628.2 L820.7 634.9 L802.9 646.0 L787.3 661.6 L774.0 679.3 L762.9 699.3 L769.0 687.6 L758.8 704.9 L752.3 726.7 L749.0 744.4" fill="none" stroke="#858585" stroke-width="2.2" stroke-linejoin="round" stroke-linecap="butt" filter="url(#soft)"/>
<path d="M628.9 580.0 L666.7 576.7 L661.1 566.7 L664.4 590.0 L668.9 614.4 L672.2 624.4 L673.3 641.1 L673.9 660.0 L675.0 682.2 L672.8 704.4 L667.2 733.3 L662.8 755.6 L653.9 775.6 L640.6 793.3 L620.6 808.9 L591.7 825.6 L587.2 843.3 L569.4 837.8 L573.9 804.4 L602.8 784.4 L616.1 766.7 L625.0 746.7 L629.4 726.7 L633.9 704.4 L638.3 682.2 L640.6 660.0 L641.1 645.6 L638.9 623.3 L636.7 601.1 L633.3 585.6Z" fill="#b2b2b2" />
</g>
<g clip-path="url(#cD)" filter="url(#soft)">
<path d="M644.4 583.3 L647.8 605.6 L650.0 627.8 L651.6 645.6 L650.6 668.9 L648.3 693.3 L642.8 726.7 L636.1 753.3 L625.0 775.6 L609.4 791.1 L589.4 804.4 L576.1 811.1" fill="none" stroke="#cbcbcb" stroke-width="5.5" stroke-linejoin="round" stroke-linecap="butt" />
<path d="M654.4 581.1 L658.2 605.6 L661.8 627.8 L663.3 643.3" fill="none" stroke="#9c9c9c" stroke-width="3.2" stroke-linejoin="round" stroke-linecap="butt" />
<path d="M661.1 578.9 L664.9 605.6 L668.0 625.6 L670.7 643.3 L669.4 666.7 L669.9 693.3 L666.1 726.7 L660.6 751.1 L650.6 773.3 L636.1 791.1 L616.1 806.7 L589.4 821.1" fill="none" stroke="#cacaca" stroke-width="4.2" stroke-linejoin="round" stroke-linecap="butt" />
<path d="M658.2 645.6 L657.2 666.7 L658.3 684.4 L656.1 708.9 L650.6 735.6 L641.7 760.0 L629.4 780.0 L612.8 796.7 L591.7 811.1" fill="none" stroke="#979797" stroke-width="3.4" stroke-linejoin="round" stroke-linecap="butt" />
<path d="M636.7 594.4 L639.6 623.3 L641.8 645.6 L641.7 660.0 L639.0 682.2 L634.6 704.4 L630.1 726.7 L625.7 746.7 L616.8 766.7 L603.4 784.4 L587.9 797.8" fill="none" stroke="#9a9a9a" stroke-width="2.2" stroke-linejoin="round" stroke-linecap="butt" />
<path d="M674.4 643.3 L674.8 660.0 L675.7 682.2 L673.4 704.4 L667.9 733.3 L663.4 755.6" fill="none" stroke="#d0d0d0" stroke-width="1.3" stroke-linejoin="round" stroke-linecap="butt" />
<path d="M587.2 818.2 L662.8 780.0 L747.2 733.8 L747.7 756.0 L709.4 776.0 L676.1 793.8 L631.7 820.4 L592.8 841.6 L587.2 843.8 L578.3 834.9 L588.3 824.9Z" fill="none" />
<path d="M588.3 824.9 L662.8 783.6 L680.6 793.3 L631.7 820.4 L592.8 841.6 L587.2 843.8 L578.3 834.9Z" fill="#6e6e6e" />
<path d="M571.7 835.6 L583.9 827.8 L588.3 824.9 L587.2 835.6 L578.8 834.9Z" fill="#5c5c5c" />
<path d="M575.0 808.9 L580.6 814.4 L587.2 817.3 L609.4 805.6 L638.3 790.0" fill="none" stroke="#8a8a8a" stroke-width="1.0" stroke-linejoin="round" stroke-linecap="butt" />
<path d="M611.1 558.0 L644.4 541.6 L693.3 520.4 L733.3 504.9 L753.3 498.2" fill="none" stroke="#8c8c8c" stroke-width="1.8" stroke-linejoin="round" stroke-linecap="butt" />
<path d="M623.3 574.0 L650.0 563.3 L688.9 548.2 L727.8 533.6" fill="none" stroke="#7e7e7e" stroke-width="1.3" stroke-linejoin="round" stroke-linecap="butt" />
<path d="M623.3 572.2 L650.0 561.3 L688.9 546.2 L727.8 531.8" fill="none" stroke="#b4b4b4" stroke-width="1.6" stroke-linejoin="round" stroke-linecap="butt" />
<path d="M621.1 578.9 L628.9 580.0 L653.3 568.2" fill="none" stroke="#6e6e6e" stroke-width="1.0" stroke-linejoin="round" stroke-linecap="butt" />
</g>
<g filter="url(#soft)">
<path d="M650.0 562.2 L727.8 533.7 L734.4 534.8 L750.0 541.7 L750.6 558.3 L727.8 585.0 L696.7 617.2 L675.6 634.4 L668.9 628.3 L652.2 569.4Z" fill="#a4a4a4" />
<path d="M650.0 561.9 L727.8 533.4 L734.4 534.6 L752.0 543.0" fill="none" stroke="#6e6e6e" stroke-width="1.0" stroke-linejoin="round" stroke-linecap="butt" />
<path d="M750.6 553.3 L745.6 562.8 L727.8 582.8 L705.6 606.1 L683.3 625.0 L673.9 632.2" fill="none" stroke="#cfcfcf" stroke-width="1.3" stroke-linejoin="round" stroke-linecap="butt" />
<path d="M753.3 558.3 L747.8 567.2 L730.0 587.2 L707.8 610.6 L685.6 629.4 L676.1 636.1" fill="none" stroke="#8c8c8c" stroke-width="1.0" stroke-linejoin="round" stroke-linecap="butt" />
<path d="M747.8 551.7 L742.8 560.6 L725.6 580.0 L703.3 603.3 L682.2 621.7" fill="none" stroke="#8a8a8a" stroke-width="0.8" stroke-linejoin="round" stroke-linecap="butt" />
<path d="M653.3 569.4 L656.7 587.2 L661.1 613.9 L666.7 636.1" fill="none" stroke="#cdcdcd" stroke-width="1.2" stroke-linejoin="round" stroke-linecap="butt" />
<path d="M661.1 567.8 L714.4 545.6 L730.0 542.2 L737.8 543.3 L742.2 551.7 L743.3 557.2 L736.7 566.1 L720.0 585.0 L703.3 602.8 L688.9 616.1 L676.7 626.1 L672.2 626.7 L669.4 621.7 L666.7 602.8 L663.3 582.8Z" fill="#fff" stroke="#777" stroke-width="0.6" stroke-linejoin="round" stroke-linecap="round" />
<ellipse cx="812.4" cy="581.1" rx="14.8" ry="19.6" transform="rotate(14 812.4 581.1)" fill="#fff" stroke="#6a6a6a" stroke-width="0.8"/>
<path d="M848.2 543.9 L854.6 545.5 L862.1 549.8 L864.2 554.6 L864.8 559.9 L864.2 587.8 L862.1 596.3 L857.8 615.6 L855.7 616.6 L855.7 615.6 L857.3 598.4 L857.8 585.6 L857.3 572.8 L856.7 561.0 L852.5 550.3Z" fill="#6e6e6e" stroke="#444" stroke-width="0.7" stroke-linejoin="round" stroke-linecap="round" />
<path d="M851.9 549.8 L855.1 548.2 L859.4 551.4 L858.9 561.0 L856.7 561.0Z" fill="#a8a8a8" />
<path d="M862.1 561.0 L863.7 562.1 L864.0 587.8 L858.9 593.1 L858.0 585.6 L858.0 572.8Z" fill="#fafafa" stroke="#444" stroke-width="0.6" stroke-linejoin="round" stroke-linecap="round" />
<path d="M862.1 549.8 L864.2 554.6 L864.8 559.9 L864.2 587.8 L862.1 596.3 L858.0 615.6" fill="none" stroke="#3c3c3c" stroke-width="1.2" stroke-linejoin="round" stroke-linecap="butt" />
<circle cx="651.6" cy="691.1" r="1.0" fill="#f2f2f2"/>
<circle cx="651.6" cy="696.7" r="1.0" fill="#f2f2f2"/>
<circle cx="637.3" cy="710.0" r="1.0" fill="#f2f2f2"/>
<circle cx="581.0" cy="812.9" r="1.0" fill="#f2f2f2"/>
<circle cx="597.9" cy="807.8" r="1.0" fill="#f2f2f2"/>
</g>
<g filter="url(#soft)">
<path d="M785.0 475.0 L790.0 476.7 L797.5 470.8 L806.7 477.5 L820.0 482.5 L835.0 482.5 L843.3 479.2 L848.3 476.7 L855.0 480.0 L865.0 487.5 L863.3 490.8 L873.3 498.3 L880.0 506.7 L885.0 508.3 L886.7 510.8 L885.0 513.3 L895.0 519.2 L900.8 523.3 L901.7 536.7 L900.8 570.0 L899.2 566.7 L896.7 561.7 L891.7 560.0 L881.7 551.7 L878.3 540.0 L871.7 526.7 L869.2 518.3 L871.7 516.7 L865.0 508.3 L857.5 503.3 L845.0 502.5 L831.7 503.3 L820.0 498.3 L810.0 497.5 L798.3 491.7 L790.0 481.7Z" fill="#686868" stroke="#3e3e3e" stroke-width="0.9" stroke-linejoin="round" stroke-linecap="round" />
</g>
<g clip-path="url(#cE)"><g filter="url(#soft)">
<path d="M797.5 470.8 L806.7 477.5 L820.0 482.5 L835.0 482.5 L843.3 479.2 L848.3 476.7 L851.7 478.7 L845.0 484.2 L835.0 487.0 L820.0 487.0 L806.7 482.5 L795.8 474.2Z" fill="#868686" />
<path d="M797.5 471.3 L806.7 478.0 L815.0 481.0" fill="none" stroke="#e0e0e0" stroke-width="1.4" stroke-linejoin="round" stroke-linecap="butt" />
<path d="M785.0 475.0 L790.0 476.7 L795.8 473.7 L806.7 483.3 L805.0 493.3 L798.3 491.7 L790.0 481.7Z" fill="#707070" />
<path d="M806.7 483.3 L820.0 487.5 L835.0 487.5 L845.0 485.0 L851.7 490.0 L857.5 503.3 L845.0 502.5 L831.7 503.3 L820.0 498.3 L810.0 497.5 L805.0 493.3Z" fill="#484848" />
<path d="M815.0 491.7 L831.7 494.2 L843.3 493.3 L845.0 498.3 L831.7 500.0 L818.3 496.7Z" fill="#5a5a5a" />
<path d="M848.3 476.7 L855.0 480.0 L865.0 487.5 L863.3 490.8 L873.3 498.3 L880.0 506.7 L881.7 513.3 L871.7 516.7 L865.0 508.3 L857.5 503.3 L851.7 490.0 L845.0 484.2Z" fill="#585858" />
<path d="M851.7 478.7 L865.0 488.3 L875.0 500.0 L880.0 508.3 L876.7 510.8 L868.3 500.0 L858.3 490.0 L850.0 483.3Z" fill="#7c7c7c" />
<path d="M855.0 491.7 L865.0 498.3 L871.7 508.3 L868.3 510.8 L861.7 503.3 L855.0 496.7Z" fill="#3a3a3a" />
<path d="M869.2 518.3 L871.7 516.7 L881.7 513.3 L885.0 513.3 L895.0 519.2 L900.8 523.3 L901.7 536.7 L900.8 570.0 L899.2 566.7 L896.7 561.7 L891.7 560.0 L881.7 551.7 L878.3 540.0 L871.7 526.7Z" fill="#6a6a6a" />
<path d="M875.0 524.2 L891.7 521.7 L898.3 526.7 L899.2 546.7 L891.7 553.3 L883.3 546.7 L880.0 536.7Z" fill="#8c8c8c" stroke="#555" stroke-width="0.5" stroke-linejoin="round" stroke-linecap="round" />
<path d="M895.0 519.2 L900.8 523.3 L901.7 536.7 L900.8 570.0 L899.2 566.7 L898.3 546.7 L898.0 526.7Z" fill="#4a4a4a" />
<path d="M871.7 517.5 L881.7 520.0 L896.7 520.0" fill="none" stroke="#3a3a3a" stroke-width="0.9" stroke-linejoin="round" stroke-linecap="butt" />
<path d="M880.0 506.7 L885.0 509.2 L886.3 511.3" fill="none" stroke="#d8d8d8" stroke-width="1.0" stroke-linejoin="round" stroke-linecap="butt" />
</g>
</g>
<g filter="url(#soft)">
<path d="M785.0 475.0 L790.0 476.7 L797.5 470.8 L806.7 477.5 L820.0 482.5 L835.0 482.5 L843.3 479.2 L848.3 476.7 L855.0 480.0 L865.0 487.5 L863.3 490.8 L873.3 498.3 L880.0 506.7 L885.0 508.3 L886.7 510.8 L885.0 513.3 L895.0 519.2 L900.8 523.3 L901.7 536.7 L900.8 570.0 L899.2 566.7 L896.7 561.7 L891.7 560.0 L881.7 551.7 L878.3 540.0 L871.7 526.7 L869.2 518.3 L871.7 516.7 L865.0 508.3 L857.5 503.3 L845.0 502.5 L831.7 503.3 L820.0 498.3 L810.0 497.5 L798.3 491.7 L790.0 481.7Z" fill="none" stroke="#3e3e3e" stroke-width="0.8" stroke-linejoin="round" stroke-linecap="round" />
<ellipse cx="886.2" cy="538.7" rx="3.6" ry="4.4" transform="rotate(-20 886.2 538.7)" fill="#fff" stroke="#3a3a3a" stroke-width="0.8"/>
<circle cx="892.8" cy="558.7" r="1.0" fill="#e8e8e8"/>
<circle cx="803.0" cy="491.7" r="1.0" fill="#e8e8e8"/>
<circle cx="818.3" cy="497.0" r="1.0" fill="#e8e8e8"/>
<circle cx="846.7" cy="495.0" r="1.0" fill="#e8e8e8"/>
</g>
<g filter="url(#soft)">
<path d="M361.7 815.0 L373.3 796.7 L390.0 770.0 L410.0 733.3 L430.0 700.0 L446.7 673.3 L461.7 653.3 L460.0 650.0 L463.3 645.0 L476.7 631.7 L500.0 613.3 L523.3 598.3 L546.7 586.7 L571.7 575.0 L576.7 575.0 L583.3 591.7 L578.3 596.7 L556.7 605.0 L530.0 618.3 L510.0 631.7 L493.3 646.7 L476.7 666.7 L463.3 686.7 L446.7 713.3 L430.0 740.0 L415.0 764.4 L415.4 800.0 L415.0 811.1 L415.0 833.3 L416.1 855.6 L417.2 875.6 L421.7 882.2 L430.6 884.4 L443.9 876.7 L492.8 847.8 L532.8 824.0 L535.0 831.1 L543.9 837.8 L550.6 844.4 L551.7 853.3 L550.6 864.4 L426.1 933.3 L421.7 931.1 L419.4 933.3 L399.4 938.9 L385.0 941.1 L377.2 944.4 L376.1 938.9 L383.9 935.6 L382.8 931.1 L381.7 913.3 L377.2 895.6 L370.6 880.0 L372.8 875.6 L388.3 873.3 L393.9 868.9 L391.7 855.6 L387.2 833.3 L385.0 815.6 L379.4 820.0 L378.3 823.3 L370.6 826.7 L363.9 817.8 L361.7 814.4Z" fill="#b0b0b0" stroke="#5e5e5e" stroke-width="0.9" stroke-linejoin="round" stroke-linecap="round" />
</g>
<g clip-path="url(#cF)"><g filter="url(#soft)">
<path d="M361.7 815.0 L373.3 796.7 L390.0 770.0 L410.0 733.3 L430.0 700.0 L446.7 673.3 L461.7 653.3 L460.0 650.0 L463.3 645.0 L476.7 631.7 L500.0 613.3 L523.3 598.3 L546.7 586.7 L571.7 575.0 L576.7 575.0 L583.3 591.7 L578.3 596.7 L556.7 605.0 L530.0 618.3 L510.0 631.7 L493.3 646.7 L476.7 666.7 L463.3 686.7 L446.7 713.3 L430.0 740.0 L415.0 764.4 L416.1 775.6 L388.3 811.1 L379.4 820.0 L378.3 823.3 L370.6 826.7 L363.9 817.8 L361.7 814.4Z" fill="#c3c3c3" />
<path d="M363.3 818.3 L375.7 798.7 L392.3 772.0 L412.3 735.3 L432.3 702.0 L449.0 675.3 L464.0 655.3" fill="none" stroke="#d4d4d4" stroke-width="3.2" stroke-linejoin="round" stroke-linecap="butt" />
<path d="M460.0 651.1 L458.9 648.9 L464.4 644.4 L468.9 640.0 L480.0 628.9 L500.0 613.3 L531.1 594.4 L564.4 576.7 L572.2 574.4 L577.8 580.0 L583.3 590.0 L578.9 593.3 L578.9 598.9 L555.6 607.8 L533.3 617.8 L511.1 631.1 L493.3 646.7 L477.8 664.4 L473.3 671.1Z" fill="#a9a9a9" />
<path d="M473.3 644.4 L500.0 621.1 L531.1 602.2 L564.4 584.4 L577.8 581.1 L581.1 587.8 L555.6 600.0 L531.1 612.2 L506.7 627.8 L488.9 643.3 L475.6 657.8Z" fill="#b0b0b0" />
<path d="M578.9 596.7 L555.6 605.6 L533.3 615.6 L511.1 628.9 L493.3 644.4 L477.8 662.2 L468.9 675.6" fill="none" stroke="#c6c6c6" stroke-width="2.2" stroke-linejoin="round" stroke-linecap="butt" />
<path d="M577.8 593.3 L554.4 602.7 L531.6 612.9 L508.9 626.2 L490.7 642.2 L475.6 659.6" fill="none" stroke="#787878" stroke-width="0.9" stroke-linejoin="round" stroke-linecap="butt" />
<path d="M470.0 641.1 L481.1 630.2 L501.1 614.7 L532.2 595.8 L565.6 578.0 L572.2 575.6" fill="none" stroke="#c0c0c0" stroke-width="1.2" stroke-linejoin="round" stroke-linecap="butt" />
<path d="M375.0 823.3 L386.7 798.3 L401.7 773.3 L421.7 738.3 L441.7 705.0 L458.3 678.3 L473.3 658.3 L490.0 640.0 L506.7 626.0 L528.3 611.7 L555.0 598.3 L580.0 586.7" fill="none" stroke="#b2b2b2" stroke-width="4.0" stroke-linejoin="round" stroke-linecap="butt" />
<path d="M577.3 597.3 L556.7 605.7 L530.0 619.0 L510.0 632.3 L493.3 647.3 L476.7 667.3 L463.3 687.3 L446.7 714.0 L430.0 740.7 L414.6 764.9" fill="none" stroke="#8a8a8a" stroke-width="1.2" stroke-linejoin="round" stroke-linecap="butt" />
<path d="M461.7 653.3 L473.3 660.0" fill="none" stroke="#8c8c8c" stroke-width="0.8" stroke-linejoin="round" stroke-linecap="butt" />
<path d="M368.3 815.6 L386.1 804.4 L393.9 798.9 L385.0 815.6 L379.4 820.0 L378.3 823.3 L370.6 826.7Z" fill="#a4a4a4" />
<path d="M365.0 815.6 L381.7 806.7 L395.0 797.8" fill="none" stroke="#8e8e8e" stroke-width="0.8" stroke-linejoin="round" stroke-linecap="butt" />
<path d="M385.0 815.6 L393.9 797.8 L407.2 775.6 L415.0 764.4 L416.1 788.9 L415.0 811.1 L415.0 833.3 L416.1 855.6 L417.2 875.6 L421.7 882.2 L430.6 884.4 L428.3 904.4 L426.1 933.3 L419.4 933.3 L399.4 938.9 L385.0 941.1 L377.2 944.4 L376.1 938.9 L383.9 935.6 L382.8 931.1 L381.7 913.3 L377.2 895.6 L370.6 880.0 L372.8 875.6 L388.3 873.3 L393.9 868.9 L391.7 855.6 L387.2 833.3 L385.0 815.6Z" fill="#a7a7a7" />
<path d="M406.1 777.8 L413.2 768.9 L413.2 793.3 L408.3 804.4 L395.0 811.1 L391.7 806.7Z" fill="#8f8f8f" />
<path d="M390.6 815.6 L409.4 810.0 L412.3 833.3 L413.2 855.6 L402.8 866.7 L396.1 871.1 L393.2 855.6 L389.4 833.3Z" fill="#9a9a9a" />
<path d="M402.8 836.7 L411.7 833.3 L412.8 848.9 L404.3 851.6Z" fill="#7c7c7c" stroke="#606060" stroke-width="0.5" stroke-linejoin="round" stroke-linecap="round" />
<path d="M395.0 871.1 L402.8 866.7 L401.7 884.4 L393.9 887.8Z" fill="#858585" />
<path d="M395.0 888.9 L413.2 880.4 L414.6 895.6 L397.2 904.4Z" fill="#9c9c9c" stroke="#7a7a7a" stroke-width="0.5" stroke-linejoin="round" stroke-linecap="round" />
<path d="M398.3 906.7 L416.1 897.8 L426.1 906.7 L421.7 924.4 L402.8 930.0Z" fill="#979797" stroke="#808080" stroke-width="0.5" stroke-linejoin="round" stroke-linecap="round" />
<path d="M413.2 800.0 L412.3 833.3 L413.7 855.6 L414.6 875.6 L419.4 883.3" fill="none" stroke="#c9c9c9" stroke-width="1.4" stroke-linejoin="round" stroke-linecap="butt" />
<path d="M386.1 816.7 L388.8 833.3 L393.2 855.6 L395.4 869.3" fill="none" stroke="#c4c4c4" stroke-width="1.2" stroke-linejoin="round" stroke-linecap="butt" />
<path d="M372.8 875.6 L388.3 873.3 L393.9 887.8 L397.2 904.4 L400.6 928.9 L385.0 941.1 L382.8 931.1 L381.7 913.3 L377.2 895.6 L370.6 880.0Z" fill="#b4b4b4" />
<path d="M388.3 874.4 L393.2 888.9 L396.8 906.7 L399.4 930.0" fill="none" stroke="#868686" stroke-width="0.9" stroke-linejoin="round" stroke-linecap="butt" />
<path d="M376.1 878.2 L382.8 895.6 L386.6 913.3 L388.3 933.3" fill="none" stroke="#cecece" stroke-width="1.6" stroke-linejoin="round" stroke-linecap="butt" />
<path d="M376.1 938.9 L383.9 935.6 L385.0 941.1 L377.2 944.4Z" fill="#606060" />
<g>
<path d="M425.7 885.0 L555.0 808.3 L555.0 815.5 L425.7 891.5Z" fill="#b6b6b6" />
<path d="M425.7 891.5 L555.0 815.5 L555.0 817.3 L425.7 893.1Z" fill="#808080" />
<path d="M425.7 893.1 L555.0 817.3 L555.0 835.9 L425.7 910.0Z" fill="#9a9a9a" />
<path d="M425.7 910.0 L555.0 835.9 L555.0 838.2 L425.7 912.1Z" fill="#c6c6c6" />
<path d="M425.7 912.1 L555.0 838.2 L555.0 843.3 L425.7 916.7Z" fill="#adadad" />
<path d="M425.7 916.7 L555.0 843.3 L555.0 845.6 L425.7 918.8Z" fill="#c0c0c0" />
<path d="M425.7 918.8 L555.0 845.6 L555.0 852.8 L425.7 925.3Z" fill="#8c8c8c" />
<path d="M425.7 925.3 L555.0 852.8 L555.0 859.4 L425.7 931.3Z" fill="#737373" />
<path d="M425.7 931.3 L555.0 859.4 L555.0 864.5 L425.7 935.9Z" fill="#585858" />
</g>
<path d="M415.4 855.6 L417.7 875.6 L422.1 882.7 L431.0 884.9 L448.3 875.1 L443.9 888.9 L430.6 897.8 L421.7 895.6 L414.6 884.4Z" fill="#8c8c8c" />
<path d="M416.3 866.7 L419.4 877.8 L425.0 883.3 L432.8 884.0 L448.3 875.6" fill="none" stroke="#6e6e6e" stroke-width="1.0" stroke-linejoin="round" stroke-linecap="butt" />
<path d="M419.4 933.3 L421.7 931.1 L426.1 933.3 L427.2 920.0 L422.8 920.0 L418.3 924.4Z" fill="#8a8a8a" />
<path d="M422.8 921.1 L421.7 931.1" fill="none" stroke="#5a5a5a" stroke-width="0.8" stroke-linejoin="round" stroke-linecap="butt" />
</g>
</g>
<g filter="url(#soft)">
<path d="M361.7 815.0 L373.3 796.7 L390.0 770.0 L410.0 733.3 L430.0 700.0 L446.7 673.3 L461.7 653.3 L460.0 650.0 L463.3 645.0 L476.7 631.7 L500.0 613.3 L523.3 598.3 L546.7 586.7 L571.7 575.0 L576.7 575.0 L583.3 591.7 L578.3 596.7 L556.7 605.0 L530.0 618.3 L510.0 631.7 L493.3 646.7 L476.7 666.7 L463.3 686.7 L446.7 713.3 L430.0 740.0 L415.0 764.4 L415.4 800.0 L415.0 811.1 L415.0 833.3 L416.1 855.6 L417.2 875.6 L421.7 882.2 L430.6 884.4 L443.9 876.7 L492.8 847.8 L532.8 824.0 L535.0 831.1 L543.9 837.8 L550.6 844.4 L551.7 853.3 L550.6 864.4 L426.1 933.3 L421.7 931.1 L419.4 933.3 L399.4 938.9 L385.0 941.1 L377.2 944.4 L376.1 938.9 L383.9 935.6 L382.8 931.1 L381.7 913.3 L377.2 895.6 L370.6 880.0 L372.8 875.6 L388.3 873.3 L393.9 868.9 L391.7 855.6 L387.2 833.3 L385.0 815.6 L379.4 820.0 L378.3 823.3 L370.6 826.7 L363.9 817.8 L361.7 814.4Z" fill="none" stroke="#5e5e5e" stroke-width="0.8" stroke-linejoin="round" stroke-linecap="round" />
<rect x="447.59999999999997" y="885.2" width="3.6" height="2" fill="#f4f4f4" transform="rotate(-25 449.4 886.2)"/>
<rect x="456.5" y="876.1" width="3.6" height="2" fill="#f4f4f4" transform="rotate(-25 458.3 877.1)"/>
<rect x="487.0" y="863.4" width="3.6" height="2" fill="#f4f4f4" transform="rotate(-25 488.8 864.4)"/>
<rect x="495.4" y="853.4" width="3.6" height="2" fill="#f4f4f4" transform="rotate(-25 497.2 854.4)"/>
<rect x="516.1" y="846.6" width="3.6" height="2" fill="#f4f4f4" transform="rotate(-25 517.9 847.6)"/>
<circle cx="399.4" cy="824.4" r="1.0" fill="#f0f0f0"/>
<circle cx="404.3" cy="821.1" r="1.0" fill="#f0f0f0"/>
<circle cx="403.4" cy="893.3" r="1.0" fill="#f0f0f0"/>
<circle cx="408.8" cy="891.1" r="1.0" fill="#f0f0f0"/>
<circle cx="400.6" cy="787.8" r="1.0" fill="#f0f0f0"/>
<circle cx="403.9" cy="782.2" r="1.0" fill="#f0f0f0"/>
<circle cx="402.1" cy="790.7" r="1.0" fill="#f0f0f0"/>
<circle cx="408.3" cy="790.0" r="1.0" fill="#f0f0f0"/>
<circle cx="407.2" cy="860.0" r="1.9" fill="#9a9a9a" stroke="#5a5a5a" stroke-width="0.6"/>
<circle cx="393.9" cy="930.7" r="1.9" fill="#9a9a9a" stroke="#5a5a5a" stroke-width="0.6"/>
</g>
<g filter="url(#soft)">
<path d="M471.7 955.6 L476.1 953.3 L486.1 955.6 L499.4 948.9 L506.1 944.4 L502.8 933.3 L507.2 930.4 L509.4 941.1 L515.0 946.7 L523.9 948.9 L532.8 945.6 L626.1 890.4 L628.3 896.7 L637.2 903.3 L643.9 910.0 L646.1 920.0 L643.9 925.6 L519.4 994.4 L515.0 997.8 L510.6 998.9 L483.9 1001.1 L477.2 1003.3 L470.6 1010.0 L469.4 1004.4 L477.2 1001.1 L476.1 987.8 L473.9 970.0Z" fill="#a8a8a8" stroke="#5e5e5e" stroke-width="0.9" stroke-linejoin="round" stroke-linecap="round" />
</g>
<g clip-path="url(#cG)"><g filter="url(#soft)">
<g>
<path d="M518.3 952.0 L648.3 875.0 L648.3 881.4 L518.3 957.8Z" fill="#b6b6b6" />
<path d="M518.3 957.8 L648.3 881.4 L648.3 883.0 L518.3 959.2Z" fill="#808080" />
<path d="M518.3 959.2 L648.3 883.0 L648.3 899.8 L518.3 974.2Z" fill="#9a9a9a" />
<path d="M518.3 974.2 L648.3 899.8 L648.3 901.8 L518.3 976.0Z" fill="#c6c6c6" />
<path d="M518.3 976.0 L648.3 901.8 L648.3 906.4 L518.3 980.1Z" fill="#adadad" />
<path d="M518.3 980.1 L648.3 906.4 L648.3 908.4 L518.3 981.9Z" fill="#c0c0c0" />
<path d="M518.3 981.9 L648.3 908.4 L648.3 914.9 L518.3 987.7Z" fill="#8c8c8c" />
<path d="M518.3 987.7 L648.3 914.9 L648.3 920.8 L518.3 993.0Z" fill="#737373" />
<path d="M518.3 993.0 L648.3 920.8 L648.3 925.4 L518.3 997.1Z" fill="#585858" />
</g>
<path d="M471.7 955.6 L476.1 953.3 L486.1 955.6 L499.4 948.9 L506.1 944.4 L510.6 946.7 L519.4 963.3 L521.7 976.7 L519.9 994.4 L515.0 997.8 L510.6 998.9 L483.9 1001.1 L477.2 1003.3 L476.1 987.8 L473.9 970.0Z" fill="#a6a6a6" />
<path d="M471.7 955.6 L476.1 953.3 L482.8 955.6 L488.3 972.2 L491.7 990.0 L492.8 1000.7 L483.9 1001.1 L477.2 1003.3 L476.1 987.8 L473.9 970.0Z" fill="#b6b6b6" />
<path d="M475.0 954.9 L480.6 971.1 L483.9 987.8 L485.0 1001.1" fill="none" stroke="#cfcfcf" stroke-width="1.5" stroke-linejoin="round" stroke-linecap="butt" />
<path d="M483.4 956.0 L488.8 972.7 L492.1 990.0 L493.2 1000.7" fill="none" stroke="#848484" stroke-width="0.9" stroke-linejoin="round" stroke-linecap="butt" />
<path d="M488.3 954.4 L507.2 945.6 L511.7 957.8 L493.9 966.7Z" fill="#9e9e9e" stroke="#7a7a7a" stroke-width="0.5" stroke-linejoin="round" stroke-linecap="round" />
<path d="M493.2 968.9 L511.7 960.0 L521.7 968.9 L518.3 985.6 L497.2 992.2Z" fill="#979797" stroke="#808080" stroke-width="0.5" stroke-linejoin="round" stroke-linecap="round" />
<path d="M502.8 933.3 L507.2 930.4 L509.4 941.1 L515.0 946.7 L523.9 948.9 L532.8 945.6 L548.3 936.7 L543.9 950.0 L530.6 958.9 L519.4 957.8 L510.6 950.0 L505.7 944.4Z" fill="#8b8b8b" />
<path d="M508.3 936.7 L511.7 944.4 L518.3 948.2 L526.1 948.2 L539.4 941.6" fill="none" stroke="#6c6c6c" stroke-width="1.0" stroke-linejoin="round" stroke-linecap="butt" />
<path d="M515.0 997.8 L519.4 994.4 L520.8 983.3 L516.8 983.8 L513.2 988.9Z" fill="#8a8a8a" />
</g>
</g>
<g filter="url(#soft)">
<path d="M471.7 955.6 L476.1 953.3 L486.1 955.6 L499.4 948.9 L506.1 944.4 L502.8 933.3 L507.2 930.4 L509.4 941.1 L515.0 946.7 L523.9 948.9 L532.8 945.6 L626.1 890.4 L628.3 896.7 L637.2 903.3 L643.9 910.0 L646.1 920.0 L643.9 925.6 L519.4 994.4 L515.0 997.8 L510.6 998.9 L483.9 1001.1 L477.2 1003.3 L470.6 1010.0 L469.4 1004.4 L477.2 1001.1 L476.1 987.8 L473.9 970.0Z" fill="none" stroke="#5e5e5e" stroke-width="0.8" stroke-linejoin="round" stroke-linecap="round" />
<path d="M469.4 1004.4 L477.2 1001.1 L477.2 1003.3 L470.6 1010.0Z" fill="#606060" />
<rect x="541.2" y="950.8" width="3.6" height="2" fill="#f4f4f4" transform="rotate(-25 543.0 951.8)"/>
<rect x="550.3000000000001" y="941.2" width="3.6" height="2" fill="#f4f4f4" transform="rotate(-25 552.1 942.2)"/>
<rect x="581.0" y="928.6" width="3.6" height="2" fill="#f4f4f4" transform="rotate(-25 582.8 929.6)"/>
<rect x="589.4000000000001" y="919.0" width="3.6" height="2" fill="#f4f4f4" transform="rotate(-25 591.2 920.0)"/>
<rect x="610.1" y="912.1" width="3.6" height="2" fill="#f4f4f4" transform="rotate(-25 611.9 913.1)"/>
<circle cx="496.8" cy="958.4" r="1.0" fill="#f0f0f0"/>
<circle cx="502.1" cy="955.6" r="1.0" fill="#f0f0f0"/>
<circle cx="487.9" cy="996.2" r="1.8" fill="#9a9a9a" stroke="#5a5a5a" stroke-width="0.6"/>
</g>
<line x1="165.8" y1="376.7" x2="165.8" y2="412" stroke="#1c1c1c" stroke-width="1.3"/>
<line x1="364.5" y1="248.3" x2="364.5" y2="276" stroke="#1c1c1c" stroke-width="1.3"/>
<line x1="528.3" y1="431.3" x2="567.2" y2="431.3" stroke="#1c1c1c" stroke-width="1.3"/>
<line x1="693" y1="492.5" x2="693" y2="519.5" stroke="#1c1c1c" stroke-width="1.3"/>
<line x1="848.3" y1="450" x2="848.3" y2="477" stroke="#1c1c1c" stroke-width="1.3"/>
<line x1="325.8" y1="815.8" x2="361" y2="815.8" stroke="#1c1c1c" stroke-width="1.3"/>
<line x1="575" y1="966.5" x2="575" y2="994.2" stroke="#1c1c1c" stroke-width="1.3"/>
<polygon points="85.3,825.3 94.2,830.8 109.7,821.7 124.2,830 109.7,838.7 117.5,844.2 85.3,844.2" fill="#000"/>
</svg>
<div class="lb" style="left:13.2px;top:12.7px;font-size:22px;">(DRIVER)</div>
<div class="lb" style="left:326.8px;top:228.3px;font-size:22px;">7<span class="o">1</span>5<span class="o">1</span>0A</div>
<div class="lb" style="left:128.5px;top:356px;font-size:22px;">7<span class="o">1</span>40<span class="o">1</span>C</div>
<div class="lb" style="left:570.8px;top:423px;font-size:22px;">7<span class="o">1</span>6<span class="o">1</span>0L</div>
<div class="lb" style="left:817.5px;top:429.5px;font-size:22px;">7<span class="o">1</span>550</div>
<div class="lb" style="left:655.1px;top:472.2px;font-size:22px;">7<span class="o">1</span>503B</div>
<div class="lb" style="left:262.5px;top:808px;font-size:22px;">7<span class="o">1</span><span class="o">1</span><span class="o">1</span>0</div>
<div class="lb" style="left:543.8px;top:995.2px;font-size:22px;">7<span class="o">1</span>3<span class="o">1</span>2</div>
<div class="lb" style="left:39px;top:840px;font-size:31px;font-weight:bold;transform:scaleY(1.05);transform-origin:0 0;color:#000;">FR.</div>
<div style="position:absolute;left:64.5px;top:848.3px;width:9px;height:5.4px;background:#7a7a7a;border-radius:0 2.5px 2.5px 0;"></div>
</body></html>
